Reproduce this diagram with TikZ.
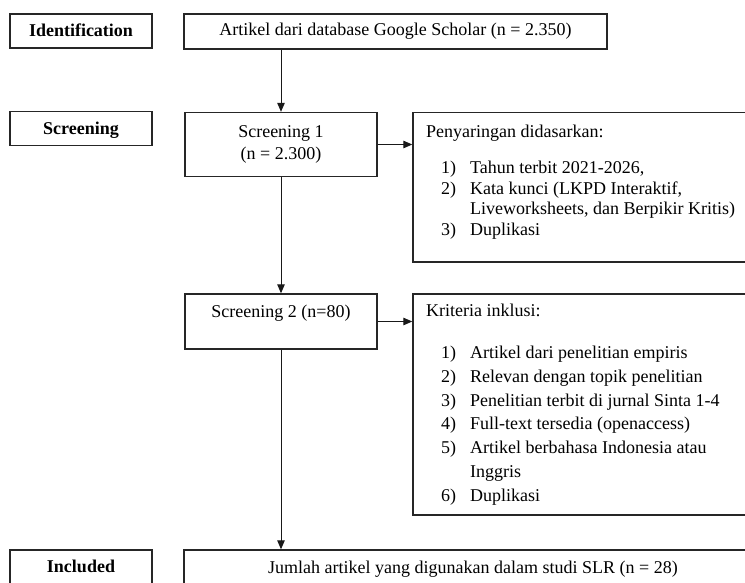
\documentclass[tikz,border=0pt]{standalone}
\usepackage{fontspec}
\setmainfont{Liberation Serif}
\usetikzlibrary{arrows.meta}
\begin{document}
\begin{tikzpicture}[x=1pt,y=-1pt,
  frame/.style={draw=black!85, line width=1.4pt, inner sep=0pt},
  lbl/.style={frame, minimum width=142pt, minimum height=34pt, text height=11.5pt, text depth=0pt, font=\fontsize{18}{21}\selectfont\bfseries},
  flow/.style={draw=black!90, line width=1pt, -{Triangle[length=9pt,width=7.5pt]}},
  txt/.style={inner sep=0pt, align=left, anchor=north west},
  one/.style={inner sep=0pt, anchor=base, font=\fontsize{18}{21}\selectfont}]
\useasboundingbox (0,0) rectangle (745,582);
\clip (0,0) rectangle (745,582);

% stage labels
\node[lbl] (lid) at (81,31) {Identification};
\node[lbl] (lsc) at (81,128.5) {Screening};
\node[lbl] (lin) at (81,567) {Included};

% boxes
\node[frame, minimum width=423pt, minimum height=35pt, font=\fontsize{18}{21}\selectfont] (top) at (395.5,31.5) {Artikel dari database Google Scholar (n = 2.350)};
\node[frame, minimum width=192pt, minimum height=64pt, align=center, font=\fontsize{18}{21.3}\selectfont] (s1) at (281,144.5) {Screening 1\\(n = 2.300)};
\node[frame, minimum width=357pt, minimum height=149.5pt] (r1) at (591.5,187.25) {};
\node[frame, minimum width=192pt, minimum height=55pt] (s2) at (281,321.5) {};
\node[one] (s2t) at (281,317.5) {Screening 2 (n=80)};
\node[frame, minimum width=357pt, minimum height=221pt] (r2) at (591.5,404.5) {};
\node[frame, minimum width=578pt, minimum height=36pt] (fin) at (473,568) {};
\node[one] (fint) at (473,573.5) {Jumlah artikel yang digunakan dalam studi SLR (n = 28)};

% list texts
\node[txt, font=\fontsize{18}{20.5}\selectfont] (r1t) at (426,124.2) {\rule{0pt}{13pt}Penyaringan didasarkan:\\[15.8pt]
\hspace*{15pt}\makebox[29pt][l]{1)}Tahun terbit 2021-2026,\\
\hspace*{15pt}\makebox[29pt][l]{2)}Kata kunci (LKPD Interaktif,\\
\hspace*{44pt}Liveworksheets, dan Berpikir Kritis)\\
\hspace*{15pt}\makebox[29pt][l]{3)}Duplikasi};

\node[txt, font=\fontsize{18}{23.9}\selectfont] (r2t) at (426,303.5) {\rule{0pt}{13pt}Kriteria inklusi:\\[17.6pt]
\hspace*{15pt}\makebox[29pt][l]{1)}Artikel dari penelitian empiris\\
\hspace*{15pt}\makebox[29pt][l]{2)}Relevan dengan topik penelitian\\
\hspace*{15pt}\makebox[29pt][l]{3)}Penelitian terbit di jurnal Sinta 1-4\\
\hspace*{15pt}\makebox[29pt][l]{4)}Full-text tersedia (openaccess)\\
\hspace*{15pt}\makebox[29pt][l]{5)}Artikel berbahasa Indonesia atau\\
\hspace*{44pt}Inggris\\
\hspace*{15pt}\makebox[29pt][l]{6)}Duplikasi};

% connectors
\draw[flow] (top.south -| s1.north) -- (s1.north);
\draw[flow] (s1.east) -- (s1.east -| r1.west);
\draw[flow] (s1.south) -- (s2.north);
\draw[flow] (s2.east) -- (s2.east -| r2.west);
\draw[flow] (s2.south) -- (s2.south |- fin.north);
\end{tikzpicture}
\end{document}
